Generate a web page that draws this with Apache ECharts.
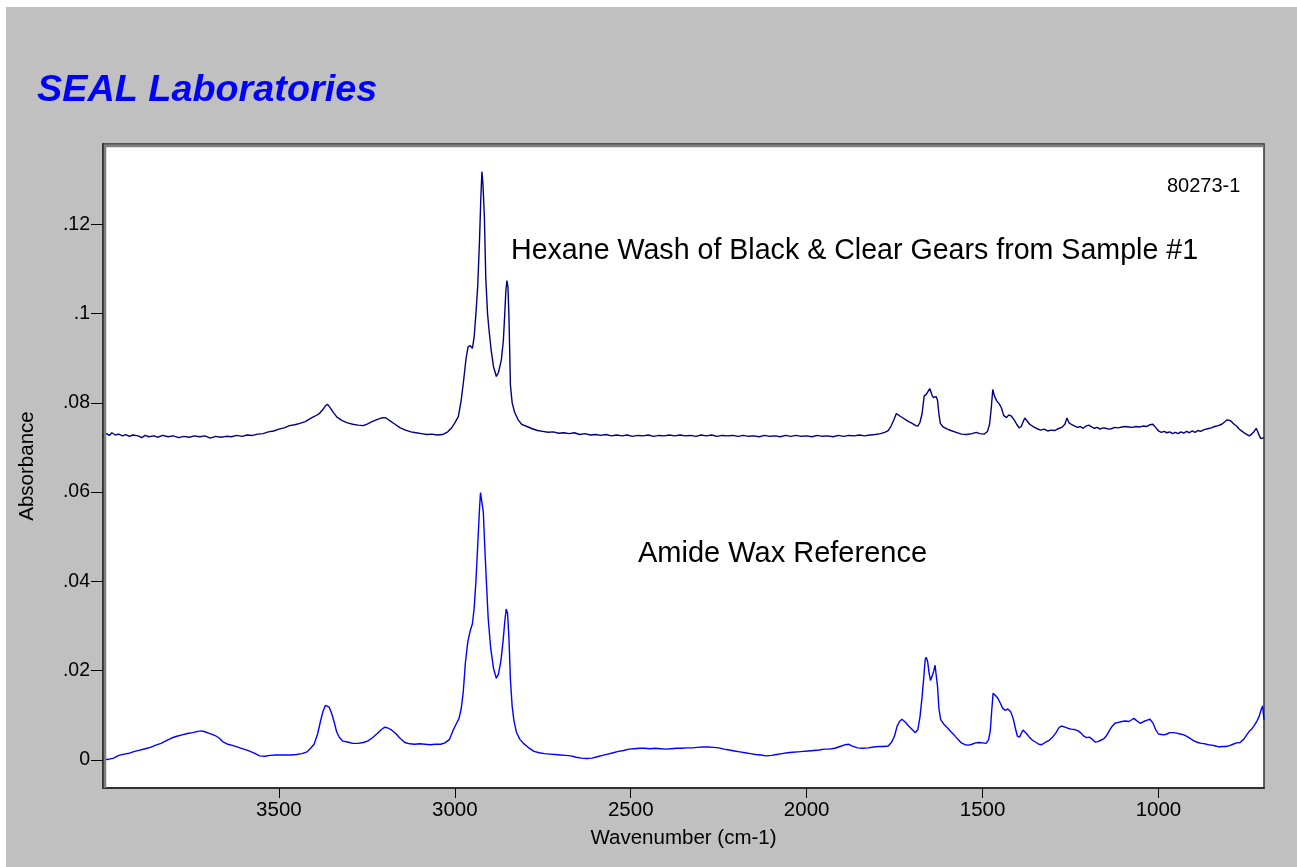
<!DOCTYPE html>
<html>
<head>
<meta charset="utf-8">
<script src="https://cdn.jsdelivr.net/npm/echarts@6/dist/echarts.min.js"></script>
<style>
html,body{margin:0;padding:0;background:#ffffff;width:1297px;height:867px;overflow:hidden;}
#chart{position:absolute;left:6px;top:7px;width:1291px;height:860px;}
</style>
</head>
<body>
<div id="chart"></div>
<script>
// ---- Data ----
const sampleWn = [4000,3990,3982,3975,3965,3955,3945,3935,3925,3915,3900,3890,3880,3870,3855,3845,3830,3815,3800,3785,3770,3755,3740,3725,3710,3695,3680,3665,3650,3635,3620,3605,3590,3575,3560,3545,3530,3515,3500,3485,3470,3455,3440,3425,3410,3398,3385,3375,3368,3362,3355,3345,3335,3320,3305,3290,3275,3260,3248,3235,3220,3205,3195,3185,3170,3155,3140,3125,3110,3095,3080,3065,3050,3035,3020,3010,3000,2990,2982,2975,2968,2962,2956,2950,2945,2940,2935,2930,2926,2923,2920,2916,2912,2907,2903,2897,2890,2882,2876,2868,2862,2858,2855,2852,2849,2846,2842,2837,2830,2820,2810,2795,2780,2765,2750,2735,2720,2705,2690,2675,2660,2645,2630,2615,2600,2585,2570,2555,2540,2525,2510,2495,2480,2465,2450,2435,2420,2405,2390,2375,2360,2345,2330,2315,2300,2285,2270,2255,2240,2225,2210,2195,2180,2165,2150,2135,2120,2105,2090,2075,2060,2045,2030,2015,2000,1985,1970,1955,1940,1925,1910,1895,1880,1865,1850,1835,1820,1805,1790,1778,1768,1760,1752,1745,1740,1734,1726,1718,1710,1700,1690,1684,1678,1672,1666,1660,1655,1650,1647,1644,1640,1636,1632,1628,1624,1620,1612,1600,1590,1575,1560,1545,1530,1518,1508,1495,1486,1480,1475,1471,1466,1460,1452,1446,1440,1432,1425,1418,1410,1403,1396,1390,1385,1380,1374,1366,1355,1345,1335,1325,1315,1305,1295,1285,1275,1266,1260,1254,1246,1238,1230,1222,1214,1206,1198,1190,1182,1174,1166,1158,1150,1142,1134,1124,1114,1104,1094,1084,1074,1064,1054,1044,1034,1024,1016,1008,1000,992,984,976,968,960,952,944,936,928,920,912,904,896,888,880,870,860,850,840,830,820,812,805,800,795,790,785,778,770,762,755,748,742,735,728,722,718,713,709,704,700];
const sampleAbs = [0.0726,0.0731,0.0727,0.0733,0.0728,0.0730,0.0726,0.0729,0.0725,0.0728,0.0726,0.0722,0.0727,0.0724,0.0726,0.0723,0.0727,0.0724,0.0726,0.0722,0.0725,0.0723,0.0726,0.0724,0.0726,0.0721,0.0725,0.0723,0.0725,0.0724,0.0727,0.0725,0.0728,0.0727,0.0730,0.0731,0.0735,0.0737,0.0741,0.0744,0.0749,0.0751,0.0754,0.0758,0.0765,0.0770,0.0776,0.0785,0.0793,0.0797,0.0790,0.0778,0.0768,0.0760,0.0755,0.0752,0.0750,0.0749,0.0753,0.0758,0.0763,0.0767,0.0766,0.0760,0.0752,0.0744,0.0739,0.0735,0.0733,0.0731,0.0729,0.0730,0.0728,0.0729,0.0735,0.0743,0.0755,0.0769,0.0805,0.0850,0.0900,0.0926,0.0928,0.0922,0.0948,0.1000,0.1060,0.1160,0.1260,0.1318,0.1290,0.1217,0.1080,0.1000,0.0965,0.0920,0.0881,0.0859,0.0868,0.0895,0.0940,0.1000,0.1050,0.1074,0.1060,0.0990,0.0840,0.0800,0.0779,0.0762,0.0752,0.0747,0.0742,0.0738,0.0736,0.0734,0.0735,0.0732,0.0733,0.0731,0.0733,0.0729,0.0731,0.0728,0.0729,0.0727,0.0729,0.0726,0.0728,0.0726,0.0728,0.0725,0.0727,0.0726,0.0728,0.0725,0.0727,0.0726,0.0728,0.0726,0.0728,0.0726,0.0727,0.0725,0.0728,0.0726,0.0728,0.0725,0.0727,0.0726,0.0727,0.0725,0.0727,0.0725,0.0726,0.0724,0.0727,0.0725,0.0726,0.0724,0.0727,0.0725,0.0727,0.0725,0.0726,0.0724,0.0727,0.0725,0.0726,0.0724,0.0727,0.0725,0.0727,0.0726,0.0728,0.0726,0.0728,0.0729,0.0731,0.0734,0.0738,0.0748,0.0762,0.0776,0.0778,0.0770,0.0766,0.0762,0.0758,0.0754,0.0749,0.0748,0.0756,0.0775,0.0815,0.0819,0.0818,0.0832,0.0836,0.0818,0.0812,0.0816,0.0814,0.0806,0.0775,0.0754,0.0746,0.0741,0.0738,0.0734,0.0730,0.0729,0.0731,0.0734,0.0731,0.0730,0.0736,0.0752,0.0790,0.0830,0.0815,0.0805,0.0797,0.0788,0.0772,0.0767,0.0773,0.0770,0.0762,0.0752,0.0744,0.0747,0.0757,0.0766,0.0760,0.0752,0.0746,0.0742,0.0739,0.0741,0.0737,0.0739,0.0738,0.0742,0.0745,0.0752,0.0766,0.0755,0.0751,0.0748,0.0745,0.0747,0.0743,0.0748,0.0750,0.0746,0.0743,0.0745,0.0741,0.0744,0.0743,0.0741,0.0742,0.0745,0.0744,0.0746,0.0747,0.0746,0.0745,0.0747,0.0746,0.0748,0.0747,0.0751,0.0752,0.0745,0.0737,0.0734,0.0736,0.0733,0.0735,0.0731,0.0734,0.0731,0.0735,0.0732,0.0736,0.0733,0.0737,0.0734,0.0738,0.0736,0.0740,0.0742,0.0744,0.0747,0.0749,0.0752,0.0757,0.0762,0.0766,0.0760,0.0756,0.0752,0.0748,0.0741,0.0736,0.0732,0.0729,0.0726,0.0730,0.0736,0.0743,0.0740,0.0726,0.0720,0.0724,0.0722];

const refWn = [4000,3985,3970,3955,3940,3925,3910,3895,3880,3865,3850,3835,3820,3805,3790,3775,3760,3745,3730,3720,3710,3700,3690,3680,3670,3660,3645,3630,3615,3600,3585,3570,3555,3540,3525,3510,3495,3480,3465,3450,3435,3420,3410,3400,3390,3382,3375,3368,3363,3357,3350,3343,3336,3328,3318,3305,3290,3275,3260,3248,3235,3222,3210,3200,3192,3180,3168,3155,3142,3128,3115,3100,3085,3070,3055,3040,3028,3015,3005,2995,2988,2982,2976,2970,2963,2956,2950,2945,2940,2935,2930,2927,2923,2919,2915,2910,2905,2898,2890,2882,2876,2869,2863,2858,2854,2850,2846,2842,2837,2832,2825,2815,2805,2790,2775,2760,2745,2730,2715,2700,2685,2670,2655,2640,2625,2610,2595,2580,2565,2550,2535,2520,2505,2490,2475,2460,2445,2430,2415,2400,2385,2370,2355,2340,2325,2310,2295,2280,2265,2250,2235,2220,2205,2190,2175,2160,2145,2130,2115,2100,2085,2070,2055,2040,2025,2010,1995,1980,1965,1950,1935,1920,1905,1890,1880,1870,1855,1840,1825,1810,1795,1780,1768,1758,1750,1743,1736,1729,1720,1710,1700,1691,1684,1678,1672,1667,1663,1660,1656,1652,1648,1644,1640,1635,1632,1628,1624,1619,1610,1600,1590,1580,1570,1560,1550,1540,1530,1520,1510,1500,1490,1483,1478,1474,1470,1464,1458,1450,1443,1436,1428,1420,1413,1407,1401,1395,1390,1385,1380,1374,1366,1358,1350,1340,1332,1322,1312,1302,1292,1283,1276,1268,1258,1248,1238,1228,1220,1212,1204,1196,1188,1180,1172,1164,1156,1148,1140,1132,1124,1114,1104,1094,1084,1076,1070,1062,1052,1042,1032,1024,1016,1008,1000,992,984,976,968,958,948,938,928,918,908,898,888,878,868,858,848,838,828,818,808,798,788,778,768,758,750,742,734,726,720,714,708,704,700];
const refAbs = [0.0002,0.0001,0.0004,0.0010,0.0013,0.0015,0.0019,0.0022,0.0025,0.0028,0.0033,0.0037,0.0043,0.0049,0.0053,0.0056,0.0059,0.0061,0.0064,0.0065,0.0063,0.0060,0.0057,0.0054,0.0049,0.0041,0.0035,0.0032,0.0028,0.0024,0.0020,0.0015,0.0009,0.0008,0.0010,0.0011,0.0011,0.0011,0.0011,0.0012,0.0014,0.0018,0.0026,0.0035,0.0058,0.0086,0.0108,0.0122,0.0125,0.0118,0.0104,0.0085,0.0063,0.0050,0.0042,0.0040,0.0037,0.0037,0.0039,0.0042,0.0049,0.0058,0.0067,0.0073,0.0072,0.0067,0.0059,0.0048,0.0039,0.0036,0.0035,0.0036,0.0035,0.0034,0.0035,0.0035,0.0038,0.0046,0.0066,0.0082,0.0093,0.0114,0.0152,0.0217,0.0265,0.0290,0.0305,0.0340,0.0400,0.0480,0.0560,0.0599,0.0595,0.0555,0.0480,0.0395,0.0315,0.0250,0.0205,0.0183,0.0192,0.0222,0.0265,0.0310,0.0338,0.0328,0.0270,0.0180,0.0120,0.0088,0.0062,0.0046,0.0037,0.0027,0.0019,0.0016,0.0014,0.0013,0.0012,0.0011,0.0010,0.0009,0.0006,0.0004,0.0003,0.0004,0.0007,0.0010,0.0013,0.0016,0.0019,0.0021,0.0024,0.0025,0.0026,0.0026,0.0025,0.0026,0.0025,0.0024,0.0025,0.0026,0.0026,0.0027,0.0027,0.0028,0.0029,0.0029,0.0028,0.0027,0.0024,0.0022,0.0020,0.0018,0.0016,0.0014,0.0012,0.0011,0.0009,0.0010,0.0012,0.0014,0.0016,0.0017,0.0018,0.0019,0.0020,0.0021,0.0022,0.0024,0.0024,0.0026,0.0030,0.0034,0.0035,0.0031,0.0027,0.0026,0.0027,0.0029,0.0030,0.0030,0.0031,0.0040,0.0054,0.0075,0.0086,0.0091,0.0085,0.0076,0.0068,0.0061,0.0068,0.0095,0.0140,0.0185,0.0225,0.0230,0.0220,0.0195,0.0178,0.0176,0.0195,0.0212,0.0210,0.0165,0.0115,0.0090,0.0080,0.0072,0.0063,0.0055,0.0046,0.0038,0.0034,0.0033,0.0035,0.0038,0.0039,0.0038,0.0037,0.0045,0.0065,0.0110,0.0149,0.0145,0.0140,0.0128,0.0116,0.0111,0.0114,0.0108,0.0093,0.0072,0.0053,0.0051,0.0053,0.0067,0.0069,0.0058,0.0050,0.0044,0.0040,0.0035,0.0034,0.0039,0.0043,0.0050,0.0060,0.0072,0.0076,0.0074,0.0071,0.0069,0.0068,0.0065,0.0060,0.0053,0.0050,0.0051,0.0046,0.0040,0.0041,0.0044,0.0047,0.0054,0.0065,0.0075,0.0082,0.0084,0.0086,0.0087,0.0086,0.0090,0.0093,0.0088,0.0082,0.0086,0.0089,0.0091,0.0083,0.0068,0.0058,0.0057,0.0056,0.0058,0.0061,0.0061,0.0060,0.0058,0.0056,0.0052,0.0047,0.0042,0.0039,0.0037,0.0036,0.0034,0.0033,0.0031,0.0029,0.0030,0.0030,0.0032,0.0035,0.0038,0.0039,0.0046,0.0055,0.0064,0.0070,0.0079,0.0087,0.0097,0.0113,0.0121,0.0090];

const xTickValues = [3500, 3000, 2500, 2000, 1500, 1000];
const xTickLabels = ['3500', '3000', '2500', '2000', '1500', '1000'];
const yTickValues = [0, 0.02, 0.04, 0.06, 0.08, 0.1, 0.12];
const yTickLabels = ['0', '.02', '.04', '.06', '.08', '.1', '.12'];

const titleText = 'SEAL Laboratories';
const sampleName = 'Hexane Wash of Black & Clear Gears from Sample #1';
const refName = 'Amide Wax Reference';
const sampleId = '80273-1';

// ---- Build chart ----
const FONT = '"Liberation Sans", Arial, Helvetica, sans-serif';
function pairs(xs, ys) { return xs.map((x, i) => [x, ys[i]]); }
function lookup(vals, labels, v) {
  for (let i = 0; i < vals.length; i++) if (Math.abs(vals[i] - v) < 1e-9) return labels[i];
  return '';
}

const G = { left: 97, top: 137, width: 1161, height: 644 };

const chart = echarts.init(document.getElementById('chart'), null, { renderer: 'canvas' });
chart.setOption({
  backgroundColor: '#c0c0c0',
  animation: false,
  grid: { left: G.left, top: G.top, width: G.width, height: G.height, show: true,
          backgroundColor: '#ffffff', borderColor: '#303030', borderWidth: 1.5 },
  xAxis: {
    type: 'value', inverse: true, min: 700, max: 4000,
    name: 'Wavenumber (cm-1)', nameLocation: 'middle', nameGap: 40,
    nameTextStyle: { color: '#000', fontSize: 20.5, fontFamily: FONT },
    axisLine: { show: true, onZero: false, lineStyle: { color: '#303030', width: 2 } },
    axisTick: { show: true, inside: false, length: 10, lineStyle: { color: '#000', width: 1 },
                customValues: xTickValues },
    axisLabel: { show: true, margin: 12, color: '#000', fontSize: 20.5, fontFamily: FONT,
                 customValues: xTickValues,
                 formatter: v => lookup(xTickValues, xTickLabels, v) },
    splitLine: { show: false }
  },
  yAxis: {
    type: 'value', min: -0.0063, max: 0.138,
    name: 'Absorbance', nameLocation: 'middle', nameGap: 65, nameRotate: 90,
    nameTextStyle: { color: '#000', fontSize: 20.5, fontFamily: FONT },
    axisLine: { show: true, onZero: false, lineStyle: { color: '#303030', width: 2 } },
    axisTick: { show: true, inside: false, length: 12, lineStyle: { color: '#000', width: 1 },
                customValues: yTickValues },
    axisLabel: { show: true, margin: 13, color: '#000', fontSize: 19.5, fontFamily: FONT,
                 customValues: yTickValues,
                 formatter: v => lookup(yTickValues, yTickLabels, v) },
    splitLine: { show: false }
  },
  series: [
    { name: sampleName, type: 'line', data: pairs(sampleWn, sampleAbs), showSymbol: false, symbol: 'none',
      lineStyle: { color: '#000080', width: 1.4 }, z: 3 },
    { name: refName, type: 'line', data: pairs(refWn, refAbs), showSymbol: false, symbol: 'none',
      lineStyle: { color: '#0000ff', width: 1.4 }, z: 3 }
  ],
  graphic: [
    { type: 'polyline', silent: true, z: 10,
      shape: { points: [[G.left + 2, G.top + G.height], [G.left + 2, G.top + 2], [G.left + G.width, G.top + 2]] },
      style: { stroke: '#808080', lineWidth: 2.5, fill: null } },
    { type: 'text', x: 31, y: 84, z: 10,
      style: { text: titleText, fill: '#0000ff', font: 'italic bold 37.8px ' + FONT,
               textAlign: 'left', textVerticalAlign: 'middle' } },
    { type: 'text', x: 1161, y: 179, z: 10,
      style: { text: sampleId, fill: '#000', font: '20px ' + FONT,
               textAlign: 'left', textVerticalAlign: 'middle' } },
    { type: 'text', x: 505, y: 244, z: 10,
      style: { text: sampleName, fill: '#000', font: '28.6px ' + FONT,
               textAlign: 'left', textVerticalAlign: 'middle' } },
    { type: 'text', x: 632, y: 547, z: 10,
      style: { text: refName, fill: '#000', font: '29px ' + FONT,
               textAlign: 'left', textVerticalAlign: 'middle' } }
  ]
});
</script>
</body>
</html>
